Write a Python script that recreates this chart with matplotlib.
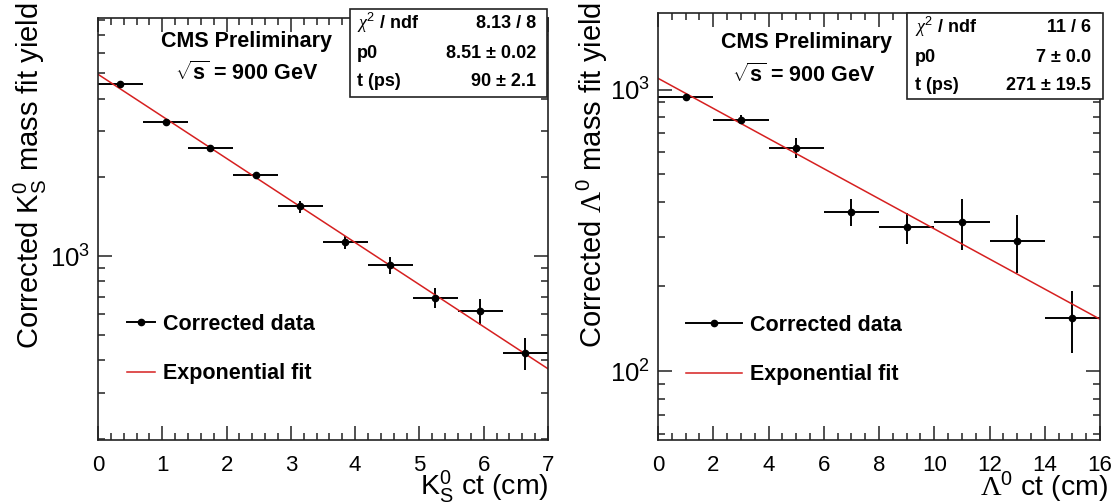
import matplotlib
matplotlib.use("Agg")
import matplotlib.pyplot as plt
import numpy as np
from matplotlib.lines import Line2D
from matplotlib.patches import Rectangle
from matplotlib.ticker import LogLocator, MultipleLocator, FuncFormatter, NullFormatter

plt.rcParams['font.family'] = ['Liberation Sans', 'DejaVu Sans']
plt.rcParams['mathtext.fontset'] = 'custom'
plt.rcParams['mathtext.rm'] = 'Liberation Sans'
plt.rcParams['mathtext.it'] = 'Liberation Sans:italic'
plt.rcParams['mathtext.bf'] = 'Liberation Sans:bold'
plt.rcParams['mathtext.sf'] = 'Liberation Serif'
plt.rcParams['mathtext.cal'] = 'Liberation Serif:italic'

# K0s lifetime
k0_ct = [0.35, 1.05, 1.75, 2.45, 3.15, 3.85, 4.55, 5.25, 5.95, 6.65]
k0_ct_err = [0.35] * 10
k0_yield = [4545, 3258, 2583, 2048, 1549, 1130, 925, 694, 616, 427]
k0_yield_err = [80, 60, 60, 50, 82, 65, 71, 62, 70, 60]
k0_p0 = 8.51
k0_tau = 90.0
k0_stats = [(r"$\mathcal{\chi}^{2}$ / ndf", "8.13 / 8"),
            ("p0", "8.51 ± 0.02"),
            ("t (ps)", "90 ± 2.1")]

# Lambda lifetime
lam_ct = [1, 3, 5, 7, 9, 11, 13, 15]
lam_ct_err = [1] * 8
lam_yield = [944, 782, 622, 369, 324, 340, 291, 154]
lam_yield_err = [25, 30, 50, 40, 42, 70, 68, 38]
lam_p0 = 7.0
lam_tau = 271.0
lam_stats = [(r"$\mathcal{\chi}^{2}$ / ndf", "11 / 6"),
             ("p0", "7 ± 0.0"),
             ("t (ps)", "271 ± 19.5")]

c_light = 0.0299792458  # cm/ps

W, H = 1112, 503
fig = plt.figure(figsize=(W / 100, H / 100), dpi=100)


def fx(px):
    return px / W


def fy(py):
    return 1 - py / H


def log_label(v, pos):
    return r"$10^{%d}$" % int(round(np.log10(v)))


def style_axis(ax, xmajor, xminor):
    ax.set_yscale('log')
    ax.xaxis.set_major_locator(MultipleLocator(xmajor))
    ax.xaxis.set_minor_locator(MultipleLocator(xminor))
    ax.yaxis.set_major_locator(LogLocator(base=10))
    ax.yaxis.set_minor_locator(LogLocator(base=10, subs=np.arange(2, 10)))
    ax.yaxis.set_major_formatter(FuncFormatter(log_label))
    ax.yaxis.set_minor_formatter(NullFormatter())
    ax.tick_params(which='both', direction='in', top=True, right=True,
                   width=1.1, color='#222222')
    ax.tick_params(axis='x', which='major', length=10, pad=11, labelsize=16)
    ax.tick_params(axis='x', which='minor', length=5)
    ax.tick_params(axis='y', which='major', length=10, pad=6, labelsize=18.5)
    ax.tick_params(axis='y', which='minor', length=5)
    for s in ax.spines.values():
        s.set_linewidth(1.2)
        s.set_color('#222222')


def panel(ax, ct, ct_err, yld, yld_err, p0, tau, xmax):
    ax.errorbar(ct, yld, xerr=ct_err, yerr=yld_err, fmt='o', color='black',
                ms=4.5, elinewidth=1.4, capsize=0)
    xs = np.linspace(0, xmax, 200)
    ax.plot(xs, np.exp(p0 - xs / (c_light * tau)), color='#d62020', lw=1.1)


def stats_box(x0, y0, x1, y1, rows, lx, rx, ys):
    fig.patches.append(Rectangle((fx(x0), fy(y1)), fx(x1 - x0), (y1 - y0) / H,
                                 transform=fig.transFigure, facecolor='white',
                                 edgecolor='#222222', lw=1.2, zorder=5))
    for (name, val), yy in zip(rows, ys):
        fig.text(fx(lx), fy(yy), name, ha='left', va='center', fontsize=13,
                 fontweight='bold', zorder=6)
        fig.text(fx(rx), fy(yy), val, ha='right', va='center', fontsize=13,
                 fontweight='bold', zorder=6)


def legend(ax, x, y, hlen):
    handles = [Line2D([], [], color='black', marker='o', ms=4.5, lw=1.4),
               Line2D([], [], color='#d62020', lw=1.1)]
    ax.legend(handles, ["Corrected data", "Exponential fit"], loc='center left',
              bbox_to_anchor=(fx(x), fy(y)), bbox_transform=fig.transFigure,
              frameon=False, borderpad=0, borderaxespad=0, handlelength=hlen,
              handletextpad=0.35, labelspacing=1.32,
              prop={'size': 15.5, 'weight': 'bold'})


# left panel
ax1 = fig.add_axes([fx(98), fy(440), fx(450), 422 / H])
panel(ax1, k0_ct, k0_ct_err, k0_yield, k0_yield_err, k0_p0, k0_tau, 7)
ax1.set_xlim(0, 7)
ax1.set_ylim(198, 8150)
style_axis(ax1, 1, 0.2)
legend(ax1, 127, 349, 1.3)
ax1.text(0.33, 0.945, "CMS Preliminary", transform=ax1.transAxes, ha='center',
         va='center', fontsize=15.5, fontweight='bold')
ax1.text(0.33, 0.87, r"$\sqrt{\mathbf{s}}$ = 900 GeV", transform=ax1.transAxes,
         ha='center', va='center', fontsize=15.5, fontweight='bold')
fig.text(fx(30), fy(2), r"Corrected $\mathrm{K}_{\mathrm{S}}^{0}$ mass fit yield",
         rotation=90, ha='center', va='top', fontsize=21)
fig.text(fx(549), fy(495), r"$\mathrm{K}_{\mathrm{S}}^{0}$ ct (cm)", ha='right',
         va='baseline', fontsize=20.5)
stats_box(350, 9, 547, 97, k0_stats, 357, 536, [23, 53, 81])

# right panel
ax2 = fig.add_axes([fx(658), fy(440), fx(442), 427 / H])
panel(ax2, lam_ct, lam_ct_err, lam_yield, lam_yield_err, lam_p0, lam_tau, 16)
ax2.set_xlim(0, 16)
ax2.set_ylim(57, 1870)
style_axis(ax2, 2, 0.5)
legend(ax2, 686, 350, 2.6)
ax2.text(0.335, 0.93, "CMS Preliminary", transform=ax2.transAxes, ha='center',
         va='center', fontsize=15.5, fontweight='bold')
ax2.text(0.33, 0.855, r"$\sqrt{\mathbf{s}}$ = 900 GeV", transform=ax2.transAxes,
         ha='center', va='center', fontsize=15.5, fontweight='bold')
fig.text(fx(592), fy(2), r"Corrected $\mathsf{\Lambda}^{0}$ mass fit yield",
         rotation=90, ha='center', va='top', fontsize=21)
fig.text(fx(1108), fy(496), r"$\mathsf{\Lambda}^{0}$ ct (cm)", ha='right',
         va='baseline', fontsize=20.5)
stats_box(907, 13, 1103, 99, lam_stats, 915, 1091, [27, 57, 86])

fig.savefig("out.png", dpi=100)
